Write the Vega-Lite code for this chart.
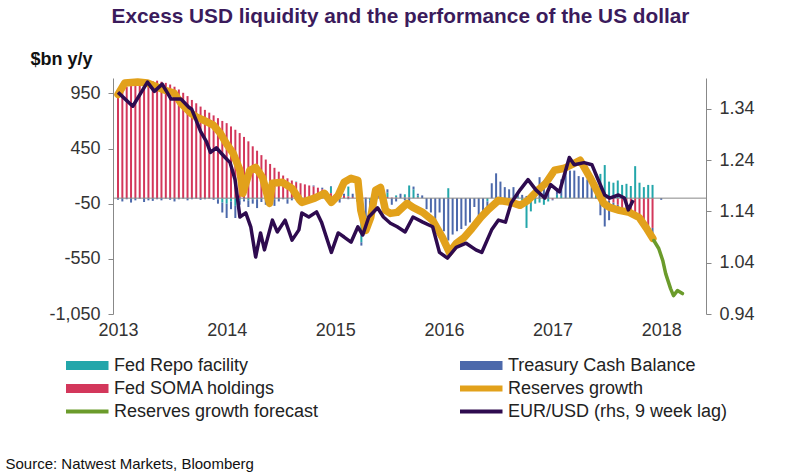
{
  "$schema": "https://vega.github.io/schema/vega-lite/v6.json",
  "autosize": "none",
  "width": 593,
  "height": 236,
  "padding": {"left": 113, "top": 78, "right": 94, "bottom": 158},
  "config": {"font": "Liberation Sans", "view": {"stroke": null}},
  "title": {"text": "Excess USD liquidity  and the performance of the US dollar", "fontSize": 20.8, "fontWeight": "bold", "color": "#3B1B5C", "anchor": "middle", "frame": "group", "offset": 22, "dx": -9},
  "datasets": {
    "bars": [
      {"t":2013.00,"s":990,"c":-15,"r":0},{"t":2013.04,"s":1000,"c":-30,"r":0},{"t":2013.08,"s":1010,"c":-10,"r":0},{"t":2013.12,"s":1020,"c":-40,"r":0},
      {"t":2013.16,"s":1030,"c":-20,"r":0},{"t":2013.20,"s":1040,"c":-5,"r":0},{"t":2013.24,"s":1050,"c":-35,"r":0},{"t":2013.28,"s":1055,"c":-15,"r":-5},
      {"t":2013.32,"s":1060,"c":-25,"r":0},{"t":2013.36,"s":1065,"c":-10,"r":0},{"t":2013.40,"s":1055,"c":-20,"r":0},{"t":2013.44,"s":1045,"c":-5,"r":0},
      {"t":2013.48,"s":1030,"c":-15,"r":0},{"t":2013.52,"s":1010,"c":-30,"r":0},{"t":2013.56,"s":985,"c":-10,"r":0},{"t":2013.60,"s":955,"c":-5,"r":0},
      {"t":2013.64,"s":925,"c":-20,"r":0},{"t":2013.68,"s":890,"c":-10,"r":0},{"t":2013.72,"s":860,"c":-5,"r":0},{"t":2013.76,"s":830,"c":-15,"r":0},
      {"t":2013.80,"s":800,"c":-10,"r":0},{"t":2013.84,"s":775,"c":-5,"r":0},{"t":2013.88,"s":750,"c":-15,"r":0},{"t":2013.92,"s":725,"c":-40,"r":-10},
      {"t":2013.96,"s":700,"c":-90,"r":-40},{"t":2014.00,"s":680,"c":-130,"r":-50},{"t":2014.04,"s":650,"c":-70,"r":-30},{"t":2014.08,"s":620,"c":-110,"r":-70},
      {"t":2014.12,"s":590,"c":-40,"r":-20},{"t":2014.16,"s":555,"c":-20,"r":-10},{"t":2014.20,"s":515,"c":-60,"r":-20},{"t":2014.24,"s":470,"c":-40,"r":-10},
      {"t":2014.28,"s":430,"c":-80,"r":-10},{"t":2014.32,"s":390,"c":-30,"r":-5},{"t":2014.36,"s":350,"c":-50,"r":-10},{"t":2014.40,"s":310,"c":-20,"r":-5},
      {"t":2014.44,"s":275,"c":-60,"r":-10},{"t":2014.48,"s":240,"c":-30,"r":0},{"t":2014.52,"s":205,"c":-10,"r":0},{"t":2014.56,"s":180,"c":-40,"r":-10},
      {"t":2014.60,"s":160,"c":-20,"r":0},{"t":2014.64,"s":145,"c":-10,"r":5},{"t":2014.68,"s":135,"c":-30,"r":0},{"t":2014.72,"s":125,"c":-5,"r":0},
      {"t":2014.76,"s":115,"c":-20,"r":0},{"t":2014.80,"s":105,"c":10,"r":0},{"t":2014.84,"s":95,"c":-10,"r":0},{"t":2014.88,"s":80,"c":15,"r":0},
      {"t":2014.92,"s":60,"c":-15,"r":0},{"t":2014.96,"s":45,"c":5,"r":60},{"t":2015.00,"s":35,"c":-20,"r":0},{"t":2015.04,"s":25,"c":-40,"r":0},
      {"t":2015.08,"s":20,"c":20,"r":0},{"t":2015.12,"s":15,"c":-10,"r":90},{"t":2015.16,"s":10,"c":30,"r":0},{"t":2015.20,"s":8,"c":25,"r":-30},
      {"t":2015.24,"s":5,"c":-30,"r":-400},{"t":2015.28,"s":5,"c":-175,"r":0},{"t":2015.32,"s":0,"c":-120,"r":-20},{"t":2015.36,"s":5,"c":-60,"r":50},
      {"t":2015.40,"s":5,"c":20,"r":0},{"t":2015.44,"s":5,"c":-40,"r":10},{"t":2015.48,"s":10,"c":30,"r":40},{"t":2015.52,"s":5,"c":-60,"r":0},
      {"t":2015.56,"s":5,"c":-30,"r":20},{"t":2015.60,"s":0,"c":40,"r":0},{"t":2015.64,"s":5,"c":-20,"r":30},{"t":2015.68,"s":5,"c":-40,"r":110},
      {"t":2015.72,"s":0,"c":25,"r":80},{"t":2015.76,"s":5,"c":15,"r":20},{"t":2015.80,"s":0,"c":25,"r":0},{"t":2015.84,"s":0,"c":-100,"r":0},
      {"t":2015.88,"s":0,"c":-130,"r":0},{"t":2015.92,"s":0,"c":-200,"r":0},{"t":2015.96,"s":0,"c":-130,"r":0},{"t":2016.00,"s":0,"c":-300,"r":0},
      {"t":2016.04,"s":0,"c":-384,"r":90},{"t":2016.08,"s":0,"c":-330,"r":0},{"t":2016.12,"s":0,"c":-300,"r":0},{"t":2016.16,"s":0,"c":-280,"r":0},
      {"t":2016.20,"s":0,"c":-250,"r":0},{"t":2016.24,"s":0,"c":-220,"r":0},{"t":2016.28,"s":0,"c":-80,"r":0},{"t":2016.32,"s":0,"c":-185,"r":0},
      {"t":2016.36,"s":0,"c":-150,"r":0},{"t":2016.40,"s":0,"c":-111,"r":-30},{"t":2016.44,"s":0,"c":135,"r":0},{"t":2016.48,"s":0,"c":225,"r":0},
      {"t":2016.52,"s":0,"c":150,"r":0},{"t":2016.56,"s":0,"c":100,"r":0},{"t":2016.60,"s":0,"c":80,"r":0},{"t":2016.64,"s":0,"c":90,"r":10},
      {"t":2016.68,"s":0,"c":40,"r":10},{"t":2016.72,"s":0,"c":30,"r":-20},{"t":2016.76,"s":0,"c":20,"r":-270},{"t":2016.80,"s":0,"c":40,"r":-120},
      {"t":2016.84,"s":0,"c":50,"r":-50},{"t":2016.88,"s":0,"c":190,"r":-40},{"t":2016.92,"s":0,"c":160,"r":-60},{"t":2016.96,"s":0,"c":60,"r":-30},
      {"t":2017.00,"s":-10,"c":-10,"r":0},{"t":2017.04,"s":0,"c":60,"r":30},{"t":2017.08,"s":0,"c":150,"r":20},{"t":2017.12,"s":0,"c":270,"r":0},
      {"t":2017.16,"s":0,"c":240,"r":10},{"t":2017.20,"s":0,"c":250,"r":0},{"t":2017.24,"s":0,"c":200,"r":0},{"t":2017.28,"s":0,"c":190,"r":0},
      {"t":2017.32,"s":0,"c":170,"r":0},{"t":2017.36,"s":0,"c":150,"r":0},{"t":2017.40,"s":-5,"c":110,"r":20},{"t":2017.44,"s":-5,"c":-150,"r":220},
      {"t":2017.48,"s":-10,"c":-247,"r":300},{"t":2017.52,"s":-20,"c":-180,"r":150},{"t":2017.56,"s":-40,"c":-60,"r":140},{"t":2017.60,"s":-60,"c":-20,"r":160},
      {"t":2017.64,"s":-80,"c":-10,"r":120},{"t":2017.68,"s":-100,"c":-10,"r":130},{"t":2017.72,"s":-120,"c":-15,"r":110},{"t":2017.76,"s":-150,"c":-10,"r":290},
      {"t":2017.80,"s":-180,"c":-10,"r":140},{"t":2017.84,"s":-210,"c":-15,"r":100},{"t":2017.88,"s":-250,"c":-30,"r":120},{"t":2017.92,"s":-270,"c":-50,"r":120},
      {"t":2018.00,"s":0,"c":-15,"r":0}
    ],
    "res": [
      {"t":2013.000,"v":940},{"t":2013.063,"v":1044},{"t":2013.181,"v":1053},{"t":2013.271,"v":1044},{"t":2013.425,"v":980},
      {"t":2013.516,"v":953},{"t":2013.579,"v":862},{"t":2013.670,"v":771},{"t":2013.724,"v":735},{"t":2013.787,"v":707},
      {"t":2013.878,"v":662},{"t":2013.941,"v":589},{"t":2013.995,"v":498},{"t":2014.059,"v":407},{"t":2014.122,"v":253},
      {"t":2014.149,"v":44},{"t":2014.213,"v":253},{"t":2014.267,"v":280},{"t":2014.330,"v":189},{"t":2014.394,"v":-47},
      {"t":2014.421,"v":135},{"t":2014.511,"v":144},{"t":2014.602,"v":89},{"t":2014.674,"v":-20},{"t":2014.692,"v":-38},
      {"t":2014.810,"v":0},{"t":2014.900,"v":44},{"t":2014.964,"v":-38},{"t":2015.027,"v":25},{"t":2015.081,"v":144},
      {"t":2015.145,"v":180},{"t":2015.208,"v":162},{"t":2015.235,"v":-111},{"t":2015.281,"v":-293},{"t":2015.326,"v":-175},
      {"t":2015.371,"v":71},{"t":2015.416,"v":98},{"t":2015.462,"v":-111},{"t":2015.507,"v":-138},{"t":2015.570,"v":-129},
      {"t":2015.661,"v":-47},{"t":2015.715,"v":-84},{"t":2015.805,"v":-129},{"t":2015.896,"v":-202},{"t":2015.986,"v":-356},
      {"t":2016.050,"v":-493},{"t":2016.113,"v":-411},{"t":2016.186,"v":-356},{"t":2016.258,"v":-275},{"t":2016.339,"v":-175},
      {"t":2016.412,"v":-100},{"t":2016.502,"v":-20},{"t":2016.620,"v":-38},{"t":2016.701,"v":-65},{"t":2016.774,"v":-20},
      {"t":2016.864,"v":71},{"t":2016.937,"v":135},{"t":2017.018,"v":253},{"t":2017.109,"v":271},{"t":2017.199,"v":316},
      {"t":2017.253,"v":344},{"t":2017.344,"v":189},{"t":2017.407,"v":71},{"t":2017.471,"v":-47},{"t":2017.525,"v":-84},
      {"t":2017.615,"v":-111},{"t":2017.706,"v":-129},{"t":2017.796,"v":-175},{"t":2017.860,"v":-266},{"t":2017.923,"v":-365}
    ],
    "fc": [
      {"t":2017.932,"v":-384},{"t":2017.977,"v":-456},{"t":2018.014,"v":-565},{"t":2018.041,"v":-684},
      {"t":2018.086,"v":-820},{"t":2018.113,"v":-884},{"t":2018.149,"v":-838},{"t":2018.195,"v":-865}
    ],
    "fx": [
      {"t":2013.000,"v":1.372},{"t":2013.136,"v":1.345},{"t":2013.271,"v":1.392},{"t":2013.335,"v":1.374},{"t":2013.407,"v":1.388},
      {"t":2013.489,"v":1.359},{"t":2013.579,"v":1.359},{"t":2013.652,"v":1.343},{"t":2013.679,"v":1.339},{"t":2013.760,"v":1.296},
      {"t":2013.814,"v":1.276},{"t":2013.851,"v":1.255},{"t":2013.905,"v":1.264},{"t":2013.986,"v":1.245},{"t":2014.032,"v":1.235},
      {"t":2014.077,"v":1.202},{"t":2014.122,"v":1.129},{"t":2014.176,"v":1.137},{"t":2014.222,"v":1.110},{"t":2014.267,"v":1.051},
      {"t":2014.312,"v":1.098},{"t":2014.348,"v":1.065},{"t":2014.421,"v":1.123},{"t":2014.466,"v":1.100},{"t":2014.538,"v":1.123},
      {"t":2014.602,"v":1.084},{"t":2014.665,"v":1.104},{"t":2014.692,"v":1.137},{"t":2014.756,"v":1.129},{"t":2014.828,"v":1.139},
      {"t":2014.873,"v":1.119},{"t":2014.964,"v":1.060},{"t":2015.027,"v":1.098},{"t":2015.081,"v":1.090},{"t":2015.145,"v":1.080},
      {"t":2015.208,"v":1.110},{"t":2015.253,"v":1.094},{"t":2015.308,"v":1.129},{"t":2015.389,"v":1.147},{"t":2015.443,"v":1.129},
      {"t":2015.507,"v":1.117},{"t":2015.570,"v":1.110},{"t":2015.643,"v":1.100},{"t":2015.715,"v":1.129},{"t":2015.805,"v":1.119},
      {"t":2015.896,"v":1.110},{"t":2015.959,"v":1.060},{"t":2016.032,"v":1.049},{"t":2016.113,"v":1.070},{"t":2016.204,"v":1.078},
      {"t":2016.294,"v":1.065},{"t":2016.348,"v":1.060},{"t":2016.439,"v":1.104},{"t":2016.502,"v":1.123},{"t":2016.566,"v":1.119},
      {"t":2016.620,"v":1.157},{"t":2016.701,"v":1.182},{"t":2016.774,"v":1.202},{"t":2016.846,"v":1.182},{"t":2016.928,"v":1.166},
      {"t":2016.982,"v":1.192},{"t":2017.063,"v":1.178},{"t":2017.154,"v":1.245},{"t":2017.199,"v":1.231},{"t":2017.290,"v":1.235},
      {"t":2017.362,"v":1.231},{"t":2017.407,"v":1.208},{"t":2017.480,"v":1.172},{"t":2017.525,"v":1.166},{"t":2017.606,"v":1.172},
      {"t":2017.661,"v":1.166},{"t":2017.697,"v":1.143},{"t":2017.742,"v":1.162}
    ]
  },
  "layer": [
    {
      "layer": [
        {
          "data": {"name": "bars"},
          "transform": [{"fold": ["r", "c", "s"], "as": ["k", "v"]}],
          "mark": {"type": "bar", "width": 2},
          "encoding": {
            "x": {"field": "t", "type": "quantitative", "scale": {"domain": [2013, 2018.366], "nice": false, "zero": false},
              "axis": {"values": [2013, 2014, 2015, 2016, 2017, 2018], "format": "d", "grid": false, "domain": false, "ticks": false, "labelFlush": false, "labelOverlap": false, "labelFontSize": 18, "labelColor": "#333", "labelPadding": 7,
                "title": "Source:  Natwest Markets, Bloomberg", "titleX": -108, "titleY": 149, "titleAlign": "left", "titleAnchor": "start", "titleBaseline": "middle", "titleFontSize": 15, "titleFontWeight": "normal", "titleColor": "#111"}},
            "y": {"field": "v", "type": "quantitative", "stack": "zero", "scale": {"domain": [-1050, 1089], "nice": false, "zero": false},
              "axis": {"values": [-1050, -550, -50, 450, 950], "labelExpr": "replace(datum.label, '\u2212', '-')", "grid": false, "domainColor": "#888", "tickColor": "#888", "tickSize": 5, "labelFontSize": 18, "labelColor": "#333", "labelPadding": 8,
                "title": "$bn y/y", "titleAngle": 0, "titleX": -83, "titleY": -19, "titleAlign": "left", "titleBaseline": "middle", "titleFontSize": 18, "titleFontWeight": "bold", "titleColor": "#111"}},
            "color": {"field": "k", "type": "nominal",
              "scale": {"domain": ["r", "c", "s", "o", "g", "e"], "range": ["#23A6AA", "#4C69AB", "#D3375B", "#E2A11B", "#6B9B2B", "#2E0B4F"]},
              "legend": {"orient": "none", "legendX": -47, "legendY": 276, "direction": "horizontal", "columns": 2, "columnPadding": 141, "rowPadding": 0, "clipHeight": 23,
                "symbolType": "stroke", "symbolSize": 2025, "symbolStrokeWidth": 8, "symbolOffset": 11, "labelFontSize": 18, "labelColor": "#222", "labelOffset": 19, "labelLimit": 400, "title": null,
                "labelExpr": "datum.value === 'r' ? 'Fed Repo facility' : datum.value === 'c' ? 'Treasury Cash Balance' : datum.value === 's' ? 'Fed SOMA holdings' : datum.value === 'o' ? 'Reserves growth' : datum.value === 'g' ? 'Reserves growth forecast' : 'EUR/USD (rhs, 9 week lag)'",
                "encode": {"symbols": {"update": {"stroke": {"scale": "color", "field": "value"}, "fill": {"value": "transparent"}, "opacity": {"value": 1},
                  "strokeWidth": {"signal": "indexof(['r','c','s'], datum.value) >= 0 ? 9 : datum.value === 'o' ? 6 : 4"}}}}}}
          }
        },
        {
          "data": {"values": [{}]},
          "mark": {"type": "rule", "color": "#888", "strokeWidth": 1},
          "encoding": {"y": {"datum": 0}}
        },
        {
          "data": {"name": "res"},
          "mark": {"type": "line", "strokeWidth": 7.5, "strokeCap": "round", "strokeJoin": "round"},
          "encoding": {
            "x": {"field": "t", "type": "quantitative"},
            "y": {"field": "v", "type": "quantitative"},
            "color": {"datum": "o"}
          }
        },
        {
          "data": {"name": "fc"},
          "mark": {"type": "line", "strokeWidth": 3.5, "strokeCap": "round", "strokeJoin": "round"},
          "encoding": {
            "x": {"field": "t", "type": "quantitative"},
            "y": {"field": "v", "type": "quantitative"},
            "color": {"datum": "g"}
          }
        }
      ]
    },
    {
      "data": {"name": "fx"},
      "mark": {"type": "line", "strokeWidth": 3.5, "strokeJoin": "round"},
      "encoding": {
        "x": {"field": "t", "type": "quantitative"},
        "y": {"field": "v", "type": "quantitative", "scale": {"domain": [0.94, 1.40], "nice": false, "zero": false},
          "axis": {"orient": "right", "values": [0.94, 1.04, 1.14, 1.24, 1.34], "format": ".2f", "grid": false, "domainColor": "#888", "tickColor": "#888", "tickSize": 5, "labelFontSize": 18, "labelColor": "#333", "labelPadding": 8, "title": null}},
        "color": {"datum": "e"}
      }
    }
  ],
  "resolve": {"scale": {"y": "independent"}}
}
